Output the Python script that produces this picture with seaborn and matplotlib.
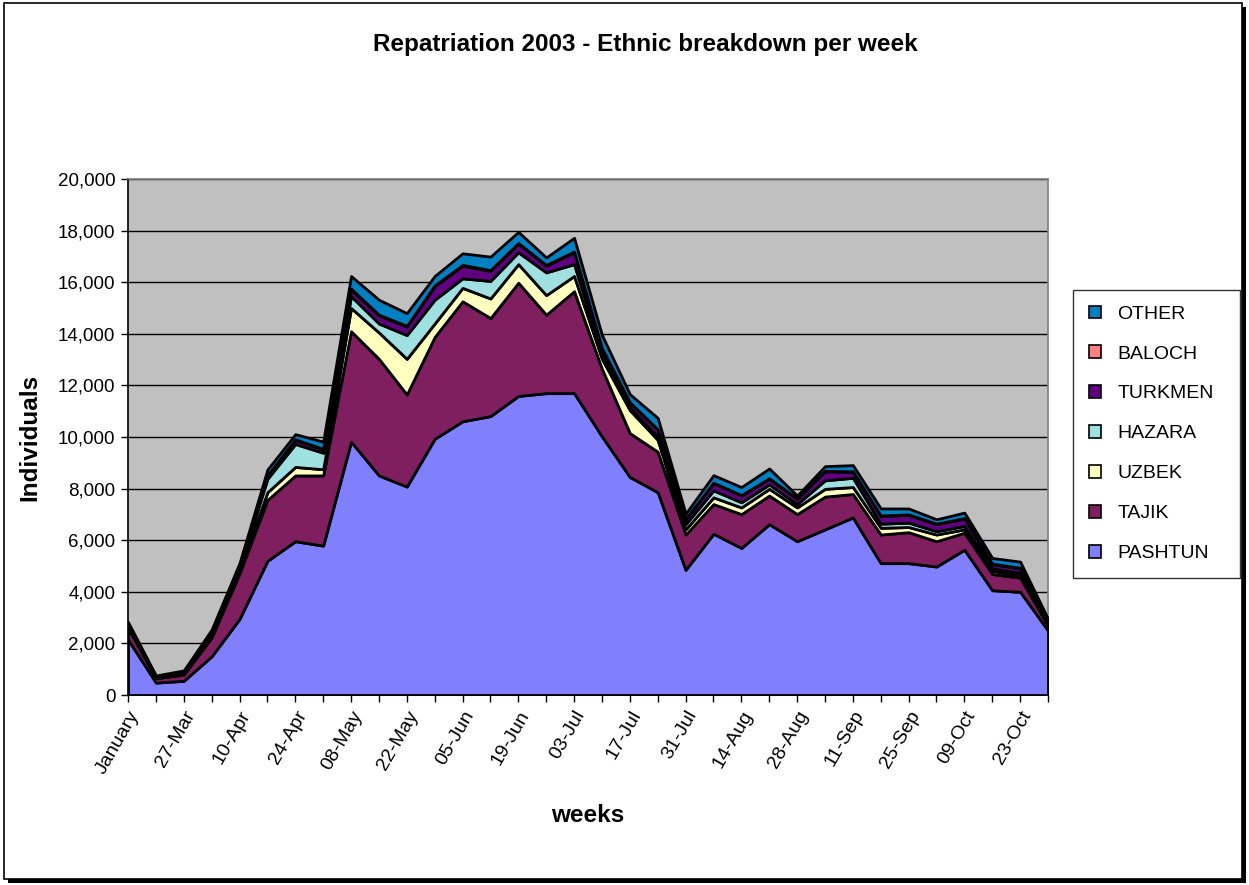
import matplotlib
matplotlib.use("Agg")
import matplotlib.pyplot as plt
from matplotlib.patches import Patch, Rectangle
from matplotlib.ticker import FuncFormatter, MultipleLocator
import seaborn as sns
import numpy as np

weeks = ["January", "20-Mar", "27-Mar", "03-Apr", "10-Apr", "17-Apr", "24-Apr", "01-May",
         "08-May", "15-May", "22-May", "29-May", "05-Jun", "12-Jun", "19-Jun", "26-Jun",
         "03-Jul", "10-Jul", "17-Jul", "24-Jul", "31-Jul", "07-Aug", "14-Aug", "21-Aug",
         "28-Aug", "04-Sep", "11-Sep", "18-Sep", "25-Sep", "02-Oct", "09-Oct", "16-Oct",
         "23-Oct", "30-Oct"]

pashtun = [2150, 480, 550, 1500, 2950, 5200, 5960, 5790, 9820, 8510, 8080, 9930, 10610, 10810,
           11590, 11700, 11700, 10020, 8450, 7860, 4850, 6250, 5700, 6620, 5960, 6420, 6880,
           5110, 5110, 4980, 5630, 4060, 4000, 2500]
tajik = [450, 170, 240, 730, 1770, 2360, 2550, 2720, 4280, 4520, 3570, 3950, 4650, 3800,
         4390, 3040, 3950, 2620, 1700, 1570, 1370, 1150, 1310, 1110, 1050, 1270, 910,
         1110, 1200, 980, 660, 630, 550, 190]
uzbek = [60, 20, 40, 80, 130, 300, 330, 240, 900, 1020, 1380, 520, 520, 760, 720, 760, 590,
         390, 890, 460, 200, 260, 260, 260, 260, 300, 270, 260, 200, 260, 130, 120, 100, 50]
hazara = [40, 20, 30, 60, 100, 520, 890, 640, 460, 350, 920, 920, 370, 680, 460, 880, 460,
          200, 100, 130, 200, 270, 200, 170, 130, 330, 360, 160, 170, 130, 130, 100, 90, 40]
turkmen = [40, 20, 30, 60, 60, 120, 160, 130, 260, 310, 330, 530, 490, 390, 330, 260, 460,
           200, 190, 260, 190, 280, 260, 220, 200, 350, 230, 300, 300, 270, 290, 160, 170, 60]
baloch = [10, 5, 5, 10, 10, 20, 20, 20, 30, 30, 30, 30, 30, 30, 30, 30, 30, 20, 20, 20, 20,
          20, 20, 20, 20, 20, 20, 20, 20, 20, 20, 20, 20, 10]
other = [80, 40, 60, 100, 100, 220, 200, 280, 490, 580, 490, 360, 450, 520, 430, 290, 530,
         500, 310, 440, 200, 290, 310, 380, 110, 180, 240, 270, 230, 170, 210, 220, 240, 100]

series_names = ["PASHTUN", "TAJIK", "UZBEK", "HAZARA", "TURKMEN", "BALOCH", "OTHER"]
colors = ["#8080FF", "#7F1F5F", "#FFFFC0", "#A0E0E0", "#600080", "#FF8080", "#0080C0"]

sns.set_style("white")
plt.rcParams["font.family"] = ["Liberation Sans", "DejaVu Sans"]
plt.rcParams["text.color"] = "black"
plt.rcParams["axes.labelcolor"] = "black"
plt.rcParams["xtick.color"] = "black"
plt.rcParams["ytick.color"] = "black"

fig = plt.figure(figsize=(12.49, 8.85), dpi=100)
ax = fig.add_axes([128 / 1249, 1 - 695 / 885, 920 / 1249, 516 / 885])
ax.set_facecolor("#C0C0C0")

x = np.arange(len(weeks))
ax.stackplot(x, pashtun, tajik, uzbek, hazara, turkmen, baloch, other,
             colors=colors, edgecolor="black", linewidth=2.0, zorder=3)

ax.set_xlim(0, len(weeks) - 1)
ax.set_ylim(0, 20000)
ax.yaxis.set_major_locator(MultipleLocator(2000))
ax.yaxis.set_major_formatter(FuncFormatter(lambda v, p: f"{int(v):,}"))
ax.grid(axis="y", color="black", linewidth=1.0, zorder=1)
ax.grid(axis="x", visible=False)
ax.set_axisbelow(True)

ax.set_xticks(x)
ax.set_xticklabels([w if i % 2 == 0 else "" for i, w in enumerate(weeks)],
                   rotation=60, ha="right", rotation_mode="anchor", fontsize=14)
ax.tick_params(axis="y", labelsize=13.5, length=5, width=1, direction="out", left=True, pad=4)
ax.tick_params(axis="x", length=5, width=1, direction="out", bottom=True, pad=4)

for side in ["left", "bottom"]:
    ax.spines[side].set_color("black")
    ax.spines[side].set_linewidth(1.2)
for side in ["top", "right"]:
    ax.spines[side].set_color("#808080")
    ax.spines[side].set_linewidth(1.2)

ax.set_ylabel("Individuals", fontsize=17.5, fontweight="bold", labelpad=12)
ax.set_xlabel("weeks", fontsize=17.5, fontweight="bold", labelpad=20)
fig.text(645 / 1249, 1 - 45 / 885, "Repatriation 2003 - Ethnic breakdown per week",
         ha="center", va="center", fontsize=17.5, fontweight="bold")

handles = [Patch(facecolor=c, edgecolor="black", linewidth=1.2, label=n)
           for n, c in zip(series_names, colors)][::-1]
leg = fig.legend(handles=handles, loc="upper left",
                 bbox_to_anchor=(1073 / 1249, 1 - 580 / 885, 167 / 1249, 290 / 885),
                 mode="expand", fontsize=14, frameon=True, fancybox=False, shadow=False,
                 labelspacing=1.17, handlelength=0.62, handleheight=0.62,
                 handletextpad=0.85, borderpad=0.8, borderaxespad=0)
leg.get_frame().set_edgecolor("black")
leg.get_frame().set_linewidth(1.0)

# chart border with shadow
fig.patches.append(Rectangle((8 / 1249, 2 / 885), 1238 / 1249, 876 / 885,
                             transform=fig.transFigure, facecolor="black",
                             edgecolor="none", zorder=-2))
fig.patches.append(Rectangle((4 / 1249, 6 / 885), 1238 / 1249, 876 / 885,
                             transform=fig.transFigure, facecolor="white",
                             edgecolor="black", linewidth=1.2, zorder=-1))

fig.savefig("out.png", dpi=100, facecolor="white")
